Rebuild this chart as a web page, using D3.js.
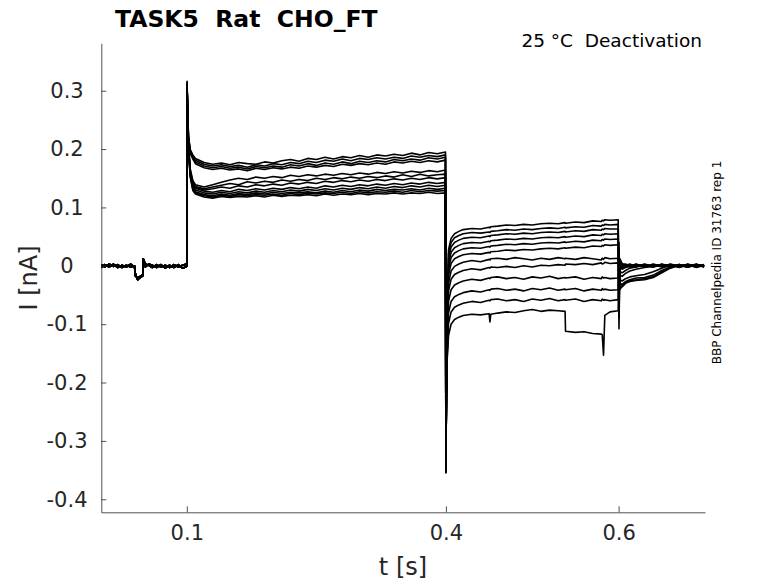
<!DOCTYPE html>
<html>
<head>
<meta charset="utf-8">
<script src="https://cdn.jsdelivr.net/npm/d3@7"></script>
<style>
  body { margin: 0; background: #fff; }
  text { font-family: "DejaVu Sans", sans-serif; fill: #262626; }
</style>
</head>
<body>
<script>
/* CONSTANTS AND GLOBALS */
var margin = {top: 43.3, right: 73, bottom: 70.7, left: 101.3},
    width = 778 - margin.left - margin.right,
    height = 583 - margin.top - margin.bottom;

var xTicks = [0.1, 0.4, 0.6];
var yTicks = [0.3, 0.2, 0.1, 0, -0.1, -0.2, -0.3, -0.4];

/* DATA (t in s, I in nA) */
// holding before the step, two copies so the band has some width
var baseT = [0.001,0.005,0.01,0.015,0.02,0.025,0.03,0.035,0.0395,0.0402,0.043,0.046,0.0492,0.0496,0.052,0.056,0.06,0.065,0.07,0.075,0.08,0.085,0.09,0.095,0.0998];
var baseA = [0.002,-0.002,0.003,-0.001,0.002,-0.003,0.001,-0.002,0.000,-0.017,-0.021,-0.018,-0.015,0.012,0.003,0.001,-0.003,0.002,-0.002,0.001,-0.003,0.002,-0.002,0.001,0.003];
var baseB = [-0.003,0.002,-0.002,0.003,-0.003,0.001,-0.002,0.003,-0.002,-0.012,-0.024,-0.02,-0.017,0.009,-0.002,0.003,0.001,-0.003,0.002,-0.004,0.001,-0.003,0.002,-0.004,-0.001];

// activating step
var step1T = [0.1,0.1003,0.101,0.102,0.104,0.107,0.11,0.12,0.13,0.14,0.15,0.16,0.17,0.18,0.19,0.2,0.21,0.22,0.23,0.24,0.25,0.26,0.27,0.28,0.29,0.3,0.31,0.32,0.33,0.34,0.35,0.36,0.37,0.38,0.39,0.3995];
var step1I = [
  [0.002,0.316,0.262,0.222,0.199,0.190,0.184,0.177,0.174,0.176,0.173,0.177,0.175,0.174,0.178,0.176,0.180,0.182,0.179,0.184,0.182,0.186,0.183,0.187,0.185,0.189,0.186,0.190,0.188,0.191,0.189,0.193,0.190,0.194,0.192,0.195],
  [0.003,0.314,0.260,0.220,0.197,0.188,0.181,0.174,0.171,0.173,0.170,0.172,0.169,0.173,0.171,0.175,0.173,0.177,0.175,0.179,0.177,0.181,0.179,0.183,0.180,0.184,0.182,0.185,0.183,0.186,0.184,0.188,0.186,0.189,0.187,0.190],
  [0.001,0.312,0.258,0.218,0.195,0.186,0.178,0.171,0.168,0.170,0.167,0.169,0.166,0.170,0.168,0.171,0.169,0.173,0.171,0.175,0.172,0.176,0.174,0.178,0.175,0.179,0.177,0.180,0.178,0.182,0.180,0.183,0.181,0.185,0.183,0.186],
  [0.002,0.313,0.259,0.216,0.192,0.183,0.175,0.168,0.165,0.167,0.164,0.166,0.163,0.167,0.165,0.168,0.166,0.169,0.167,0.171,0.169,0.172,0.170,0.174,0.172,0.175,0.173,0.176,0.174,0.178,0.176,0.179,0.177,0.180,0.178,0.181],
  [0.002,0.311,0.254,0.206,0.166,0.146,0.139,0.135,0.139,0.143,0.147,0.150,0.148,0.152,0.150,0.153,0.151,0.155,0.153,0.156,0.154,0.157,0.155,0.158,0.156,0.159,0.157,0.160,0.158,0.161,0.159,0.162,0.160,0.163,0.161,0.164],
  [0.003,0.310,0.253,0.204,0.163,0.143,0.136,0.132,0.135,0.138,0.141,0.139,0.144,0.142,0.145,0.143,0.147,0.145,0.148,0.146,0.150,0.148,0.151,0.149,0.152,0.150,0.153,0.151,0.154,0.152,0.156,0.153,0.157,0.154,0.156,0.157],
  [0.001,0.311,0.252,0.203,0.161,0.140,0.134,0.130,0.132,0.135,0.133,0.137,0.135,0.139,0.137,0.140,0.138,0.142,0.140,0.143,0.141,0.145,0.143,0.146,0.144,0.147,0.145,0.148,0.146,0.149,0.147,0.150,0.148,0.151,0.149,0.151],
  [0.002,0.312,0.253,0.202,0.160,0.138,0.133,0.128,0.126,0.129,0.127,0.131,0.129,0.132,0.130,0.133,0.131,0.134,0.132,0.135,0.133,0.137,0.135,0.138,0.136,0.139,0.137,0.140,0.138,0.141,0.139,0.142,0.140,0.143,0.141,0.143],
  [0.003,0.310,0.251,0.200,0.158,0.136,0.130,0.125,0.123,0.126,0.124,0.127,0.125,0.128,0.126,0.129,0.127,0.130,0.128,0.131,0.129,0.132,0.130,0.133,0.131,0.134,0.132,0.135,0.133,0.136,0.134,0.137,0.135,0.138,0.136,0.138],
  [0.001,0.311,0.250,0.199,0.156,0.133,0.127,0.122,0.120,0.123,0.121,0.124,0.122,0.125,0.123,0.126,0.124,0.126,0.125,0.127,0.125,0.128,0.126,0.129,0.127,0.130,0.128,0.131,0.129,0.131,0.130,0.132,0.130,0.133,0.131,0.133],
  [0.002,0.310,0.249,0.197,0.154,0.131,0.125,0.120,0.118,0.121,0.119,0.122,0.120,0.122,0.121,0.123,0.121,0.124,0.122,0.125,0.123,0.125,0.124,0.126,0.124,0.127,0.125,0.127,0.126,0.128,0.126,0.129,0.127,0.129,0.128,0.129],
  [0.003,0.309,0.248,0.196,0.152,0.129,0.123,0.118,0.116,0.119,0.117,0.119,0.118,0.120,0.118,0.121,0.119,0.121,0.120,0.122,0.120,0.123,0.121,0.123,0.122,0.124,0.122,0.124,0.123,0.125,0.123,0.125,0.124,0.126,0.124,0.125]
];

// deactivating steps
var step2T = [0.4,0.4006,0.4015,0.403,0.406,0.41,0.415,0.42,0.43,0.44,0.45,0.451,0.452,0.46,0.47,0.48,0.49,0.5,0.51,0.52,0.53,0.538,0.5385,0.55,0.56,0.57,0.58,0.581,0.5825,0.584,0.59,0.5995];
var step2I = [
  [-0.352,-0.22,-0.12,0.027,0.047,0.055,0.059,0.062,0.064,0.063,0.066,0.065,0.067,0.068,0.070,0.069,0.071,0.070,0.072,0.073,0.072,0.074,0.073,0.075,0.074,0.077,0.076,0.078,0.077,0.079,0.078,0.079],
  [-0.348,-0.22,-0.125,0.02,0.04,0.048,0.052,0.055,0.057,0.056,0.058,0.057,0.059,0.060,0.062,0.061,0.063,0.062,0.064,0.065,0.064,0.066,0.065,0.067,0.066,0.069,0.068,0.070,0.069,0.071,0.070,0.071],
  [-0.35,-0.22,-0.128,0.012,0.032,0.040,0.044,0.047,0.049,0.048,0.051,0.050,0.052,0.053,0.055,0.054,0.056,0.055,0.057,0.058,0.057,0.059,0.058,0.060,0.059,0.062,0.061,0.063,0.062,0.064,0.063,0.063],
  [-0.345,-0.22,-0.13,0.003,0.023,0.031,0.035,0.038,0.040,0.039,0.042,0.041,0.043,0.044,0.046,0.045,0.047,0.046,0.048,0.049,0.048,0.050,0.049,0.051,0.050,0.053,0.052,0.054,0.053,0.055,0.054,0.055],
  [-0.352,-0.22,-0.132,-0.006,0.014,0.022,0.026,0.029,0.031,0.030,0.033,0.032,0.034,0.035,0.037,0.036,0.038,0.037,0.039,0.040,0.039,0.041,0.040,0.042,0.041,0.044,0.043,0.045,0.044,0.046,0.045,0.046],
  [-0.349,-0.22,-0.135,-0.016,0.004,0.012,0.016,0.019,0.021,0.020,0.023,0.022,0.024,0.025,0.027,0.026,0.028,0.027,0.029,0.030,0.029,0.031,0.030,0.032,0.031,0.034,0.033,0.035,0.034,0.036,0.035,0.036],
  [-0.355,-0.22,-0.138,-0.029,-0.009,-0.001,0.003,0.006,0.009,0.007,0.011,0.010,0.012,0.013,0.011,0.014,0.012,0.010,0.013,0.011,0.014,0.012,0.013,0.011,0.014,0.012,0.010,0.013,0.011,0.014,0.012,0.013],
  [-0.346,-0.22,-0.14,-0.043,-0.023,-0.015,-0.011,-0.008,-0.005,-0.007,-0.003,-0.004,-0.002,-0.003,-0.001,-0.003,0.000,-0.002,0.001,0.000,0.002,0.001,0.003,0.002,0.004,0.002,0.005,0.003,0.004,0.006,0.004,0.005],
  [-0.35,-0.22,-0.145,-0.061,-0.041,-0.033,-0.029,-0.026,-0.023,-0.025,-0.021,-0.022,-0.020,-0.019,-0.022,-0.020,-0.023,-0.019,-0.021,-0.018,-0.022,-0.020,-0.021,-0.019,-0.023,-0.020,-0.022,-0.019,-0.021,-0.020,-0.022,-0.021],
  [-0.348,-0.22,-0.15,-0.081,-0.061,-0.053,-0.049,-0.046,-0.043,-0.045,-0.041,-0.042,-0.040,-0.039,-0.042,-0.040,-0.043,-0.039,-0.041,-0.038,-0.042,-0.040,-0.041,-0.039,-0.043,-0.040,-0.042,-0.039,-0.041,-0.040,-0.042,-0.041],
  [-0.352,-0.22,-0.155,-0.099,-0.079,-0.071,-0.067,-0.064,-0.061,-0.063,-0.059,-0.060,-0.058,-0.057,-0.060,-0.058,-0.061,-0.057,-0.059,-0.056,-0.060,-0.058,-0.059,-0.057,-0.061,-0.058,-0.060,-0.057,-0.059,-0.058,-0.060,-0.058],
  [-0.354,-0.22,-0.16,-0.12,-0.1,-0.092,-0.088,-0.085,-0.083,-0.084,-0.082,-0.096,-0.083,-0.081,-0.079,-0.080,-0.077,-0.075,-0.078,-0.076,-0.077,-0.078,-0.112,-0.114,-0.113,-0.116,-0.117,-0.118,-0.153,-0.085,-0.079,-0.077]
];

// back to holding
var tailT = [0.6004,0.6015,0.604,0.608,0.613,0.62,0.63,0.64,0.65,0.66,0.67,0.68,0.69,0.699];
var tailI = [
  [-0.108,0.012,0.004,0.002,-0.002,0.003,-0.001,0.002,-0.002,0.003,-0.001,0.002,-0.003,0.001],
  [-0.09,0.010,0.003,-0.001,0.002,-0.002,0.003,-0.001,0.002,-0.002,0.001,-0.002,0.002,-0.001],
  [-0.075,0.008,0.001,0.003,-0.001,0.002,-0.002,0.001,-0.001,0.002,-0.003,0.001,-0.001,0.002],
  [-0.06,0.006,-0.002,0.001,0.003,-0.001,0.001,-0.002,0.003,-0.001,0.002,-0.001,0.003,-0.002],
  [-0.045,0.004,-0.004,-0.001,0.001,0.002,-0.002,0.003,-0.001,0.001,-0.002,0.003,-0.001,0.001],
  [-0.03,-0.002,-0.006,-0.003,-0.001,0.001,0.002,-0.001,0.002,-0.003,0.001,-0.002,0.002,0.000],
  [-0.018,-0.01,-0.012,-0.008,-0.004,-0.002,0.001,-0.002,0.001,0.002,-0.001,0.002,-0.002,0.001],
  [-0.005,-0.016,-0.018,-0.013,-0.009,-0.006,-0.003,-0.001,0.002,-0.001,0.002,-0.001,0.001,-0.002],
  [0.01,-0.024,-0.026,-0.022,-0.019,-0.017,-0.015,-0.01,-0.004,0.001,-0.002,0.002,-0.001,0.001],
  [0.02,-0.03,-0.032,-0.027,-0.024,-0.021,-0.02,-0.016,-0.008,-0.002,0.001,-0.002,0.002,-0.001],
  [0.03,-0.036,-0.034,-0.028,-0.025,-0.024,-0.022,-0.019,-0.01,-0.003,0.002,-0.001,0.001,0.000],
  [0.04,-0.04,-0.036,-0.03,-0.027,-0.025,-0.024,-0.02,-0.012,-0.004,0.001,-0.002,0.001,-0.001]
];

/* SCALES */
var x = d3.scaleLinear().domain([0.001, 0.7]).range([0, width]);
var y = d3.scaleLinear().domain([-0.4223, 0.3812]).range([height, 0]);

var valueline = d3.line()
  .x(function(d) { return x(d[0]); })
  .y(function(d) { return y(d[1]); });

// glue the segments of each sweep together
function sweep(k) {
  var pts = [];
  var base = (k % 2 === 0) ? baseA : baseB;
  baseT.forEach(function(t, i) { pts.push([t, base[i]]); });
  step1T.forEach(function(t, i) { pts.push([t, step1I[k][i]]); });
  step2T.forEach(function(t, i) { pts.push([t, step2I[k][i]]); });
  tailT.forEach(function(t, i) { pts.push([t, tailI[k][i]]); });
  return pts;
}
var sweeps = d3.range(step1I.length).map(sweep);

/* DRAW */
var root = d3.select("body").append("svg")
    .attr("width", 778)
    .attr("height", 583);

var svg = root.append("g")
    .attr("transform", "translate(" + margin.left + "," + margin.top + ")");

svg.selectAll(".sweep")
  .data(sweeps)
  .enter().append("path")
    .attr("class", "sweep")
    .attr("d", valueline)
    .attr("fill", "none")
    .attr("stroke", "#000")
    .attr("stroke-width", 1.6)
    .attr("stroke-linejoin", "round");

// y axis, ticks inward
var yAxis = svg.append("g")
    .call(d3.axisLeft(y).tickValues(yTicks).tickSizeInner(-5).tickSizeOuter(0)
      .tickFormat(function(d) { return d === 0 ? "0" : d3.format(".1f")(d).replace("\u2212", "-"); }));
yAxis.selectAll("text")
    .attr("x", -34.3)
    .style("text-anchor", "middle")
    .style("font-size", "21px");

// x axis
var xAxis = svg.append("g")
    .attr("transform", "translate(0," + height + ")")
    .call(d3.axisBottom(x).tickValues(xTicks).tickSizeInner(-6).tickSizeOuter(0).tickPadding(13)
      .tickFormat(d3.format(".1f")));
xAxis.selectAll("text").style("font-size", "21px");

[yAxis, xAxis].forEach(function(a) {
  a.select(".domain").attr("stroke", "#262626").attr("stroke-width", 0.8);
  a.selectAll(".tick line").attr("stroke", "#262626").attr("stroke-width", 0.8);
  a.selectAll("text").attr("fill", "#262626").style("font-family", "DejaVu Sans");
});

// labels
root.append("text")
    .attr("x", 403)
    .attr("y", 575)
    .style("text-anchor", "middle")
    .style("font-size", "24px")
    .text("t [s]");

root.append("text")
    .attr("transform", "translate(36.5,278) rotate(-90)")
    .style("text-anchor", "middle")
    .style("font-size", "24px")
    .text("I [nA]");

root.append("text")
    .attr("x", 115)
    .attr("y", 26.7)
    .style("font-size", "23.5px")
    .style("font-weight", "bold")
    .style("white-space", "pre")
    .style("fill", "#000")
    .text("TASK5  Rat  CHO_FT");

root.append("text")
    .attr("x", 702)
    .attr("y", 47.3)
    .style("text-anchor", "end")
    .style("font-size", "18.5px")
    .style("white-space", "pre")
    .style("fill", "#000")
    .text("25 \u00B0C  Deactivation");

root.append("text")
    .attr("transform", "translate(720.5,262.5) rotate(-90)")
    .style("text-anchor", "middle")
    .style("font-size", "12px")
    .style("fill", "#000")
    .text("BBP Channelpedia ID 31763 rep 1");
</script>
</body>
</html>
